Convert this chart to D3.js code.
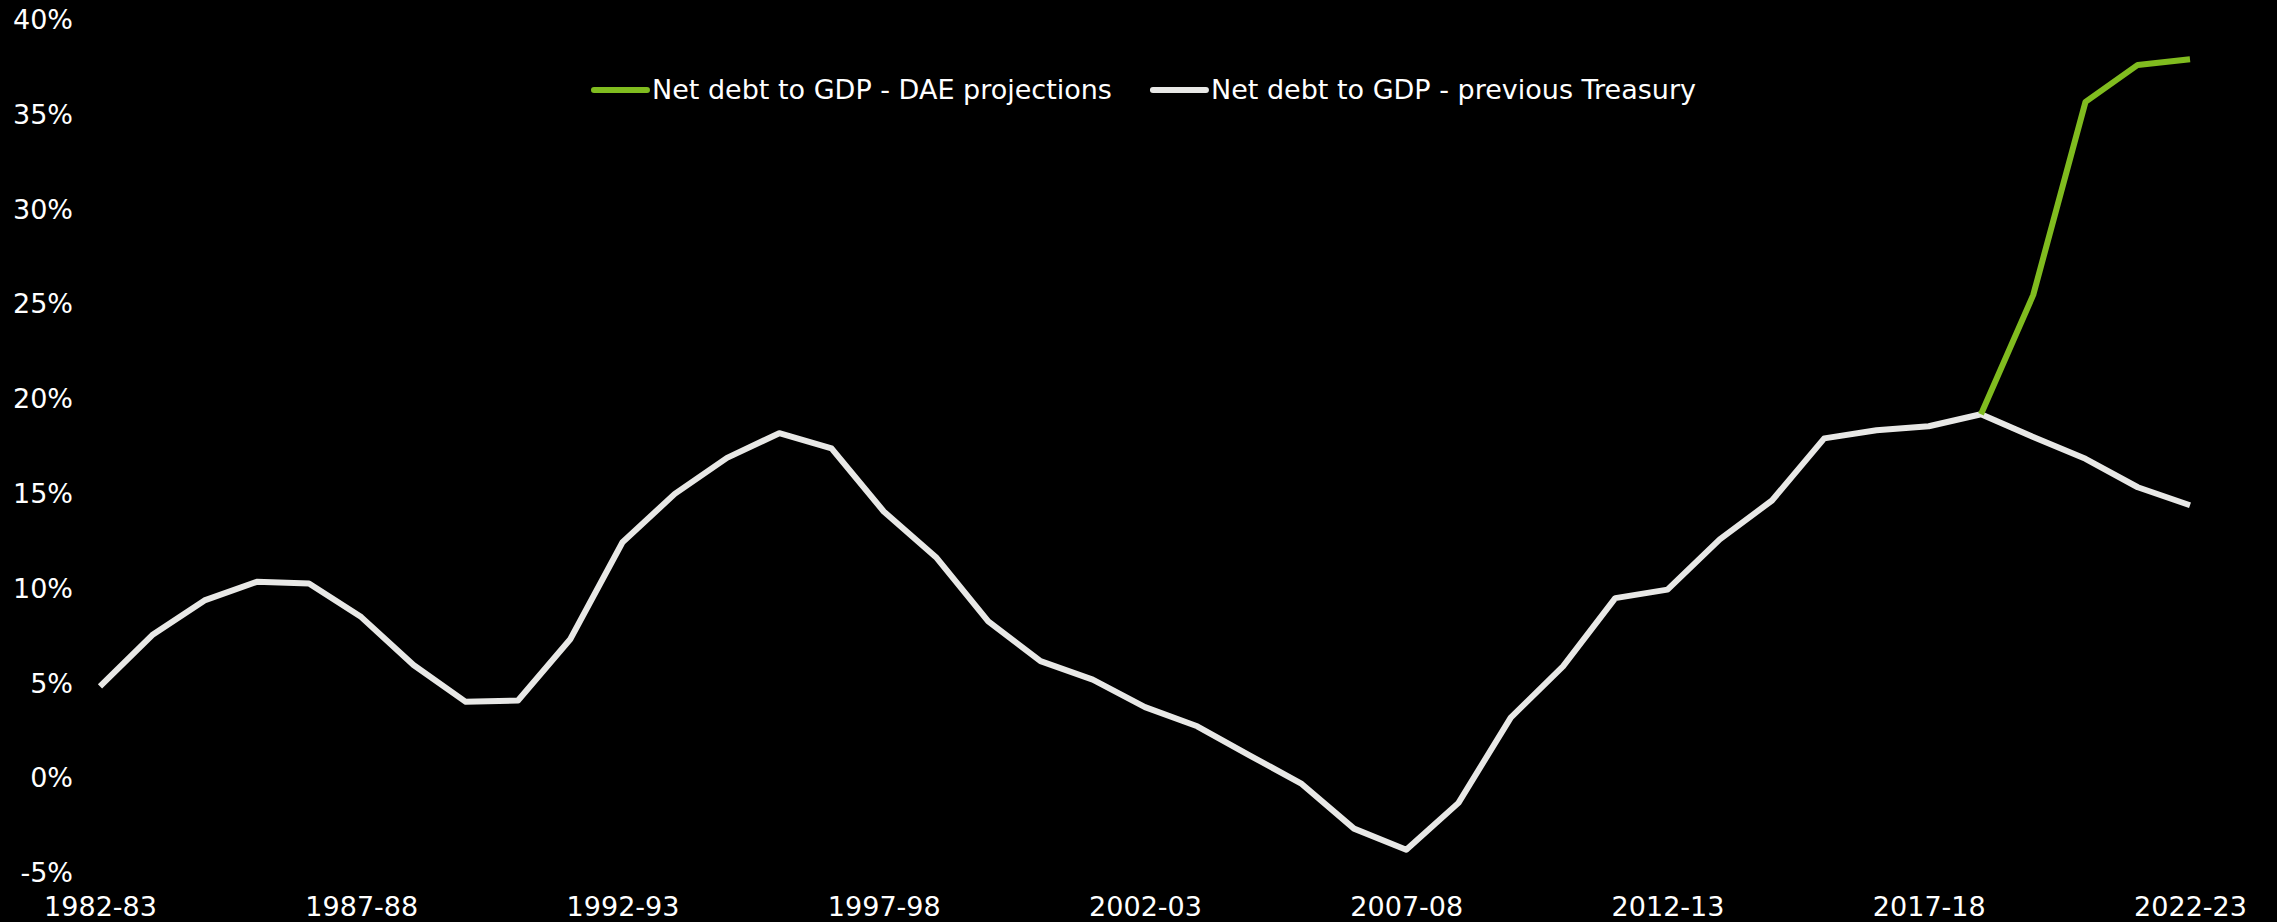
<!DOCTYPE html>
<html>
<head>
<meta charset="utf-8">
<script src="https://cdn.jsdelivr.net/npm/d3@7"></script>
<style>
  html, body { margin: 0; padding: 0; background: #000; }
  svg { display: block; }
</style>
</head>
<body>
<script>
const years = ["1982-83","1983-84","1984-85","1985-86","1986-87","1987-88","1988-89","1989-90","1990-91","1991-92",
  "1992-93","1993-94","1994-95","1995-96","1996-97","1997-98","1998-99","1999-00","2000-01","2001-02",
  "2002-03","2003-04","2004-05","2005-06","2006-07","2007-08","2008-09","2009-10","2010-11","2011-12",
  "2012-13","2013-14","2014-15","2015-16","2016-17","2017-18","2018-19","2019-20","2020-21","2021-22","2022-23"];

const treasury = [4.85, 7.55, 9.38, 10.36, 10.27, 8.5, 5.97, 4.03, 4.1, 7.33,
  12.45, 15.0, 16.9, 18.2, 17.4, 14.07, 11.66, 8.27, 6.18, 5.2,
  3.75, 2.74, 1.21, -0.3, -2.66, -3.77, -1.3, 3.2, 5.9, 9.5,
  9.95, 12.6, 14.65, 17.93, 18.36, 18.57, 19.2, 18.0, 16.85, 15.35, 14.4];

const daeYears = ["2018-19","2019-20","2020-21","2021-22","2022-23"];
const dae = [19.2, 25.5, 35.68, 37.63, 37.93];

const xTickLabels = ["1982-83","1987-88","1992-93","1997-98","2002-03","2007-08","2012-13","2017-18","2022-23"];
const yTicks = [-5, 0, 5, 10, 15, 20, 25, 30, 35, 40];

const seriesNames = ["Net debt to GDP - DAE projections", "Net debt to GDP - previous Treasury"];
const seriesColors = ["#80bc1f", "#e8e8e6"];

const W = 2277, H = 922;
const margin = {left: 100, right: 87, top: 20, bottom: 49};
const font = "'DejaVu Sans', Verdana, sans-serif";
const fontSize = 27;

const svg = d3.select("body").append("svg").attr("width", W).attr("height", H)
  .style("background", "#000");

const x = d3.scalePoint().domain(years).range([margin.left, W - margin.right]).padding(0);
const y = d3.scaleLinear().domain([-5, 40]).range([H - margin.bottom, margin.top]);

// Y axis
const yAxis = svg.append("g").attr("transform", `translate(${margin.left},0)`)
  .call(d3.axisLeft(y).tickValues(yTicks).tickSize(0).tickPadding(27).tickFormat(d => d + "%"));
yAxis.select(".domain").remove();
yAxis.selectAll("text").attr("fill", "#fff").style("font-family", font).style("font-size", fontSize + "px");

// X axis
const xAxis = svg.append("g").attr("transform", `translate(0,${H - margin.bottom})`)
  .call(d3.axisBottom(x).tickValues(xTickLabels).tickSize(0).tickPadding(24));
xAxis.select(".domain").remove();
xAxis.selectAll("text").attr("fill", "#fff").style("font-family", font).style("font-size", fontSize + "px");

const line = d3.line().x(d => x(d[0])).y(d => y(d[1]));

svg.append("path")
  .datum(years.map((yr, i) => [yr, treasury[i]]))
  .attr("d", line)
  .attr("fill", "none").attr("stroke", seriesColors[1]).attr("stroke-width", 6)
  .attr("stroke-linejoin", "round").attr("stroke-linecap", "butt");

svg.append("path")
  .datum(daeYears.map((yr, i) => [yr, dae[i]]))
  .attr("d", line)
  .attr("fill", "none").attr("stroke", seriesColors[0]).attr("stroke-width", 6)
  .attr("stroke-linejoin", "round").attr("stroke-linecap", "butt");

// Legend
const legend = svg.append("g");
const swatchW = 53, swatchGap = 5, itemGap = 41, legendY = 90;
let cx = 0;
seriesNames.forEach((name, i) => {
  const g = legend.append("g").attr("transform", `translate(${cx},0)`);
  g.append("line").attr("x1", 0).attr("x2", swatchW).attr("y1", legendY).attr("y2", legendY)
    .attr("stroke", seriesColors[i]).attr("stroke-width", 6).attr("stroke-linecap", "round");
  const t = g.append("text").attr("x", swatchW + swatchGap).attr("y", legendY).attr("dy", "0.35em")
    .attr("fill", "#fff").style("font-family", font).style("font-size", fontSize + "px").text(name);
  cx += swatchW + swatchGap + t.node().getComputedTextLength() + itemGap;
});
const totalW = cx - itemGap;
const center = (margin.left + W - margin.right) / 2;
legend.attr("transform", `translate(${center - totalW / 2},0)`);
</script>
</body>
</html>
